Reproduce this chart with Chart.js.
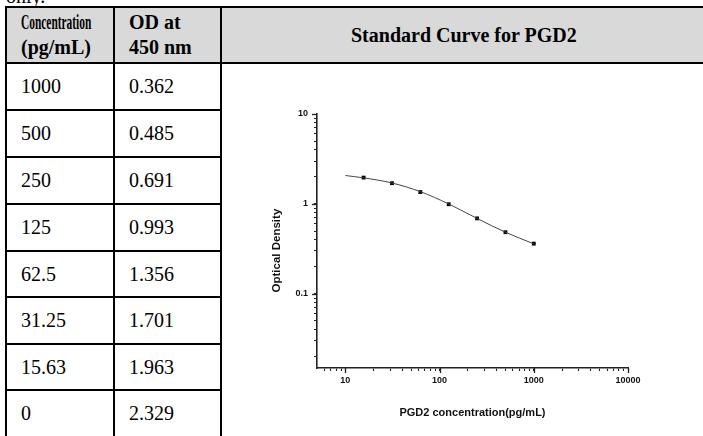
<!DOCTYPE html>
<html>
<head>
<meta charset="utf-8">
<script src="https://cdn.jsdelivr.net/npm/chart.js@4.4.0/dist/chart.umd.min.js"></script>
<style>
body { margin:0; width:703px; height:436px; overflow:hidden; background:#fff; position:relative; font-family:"Liberation Serif","Times New Roman",serif; }
#note { position:absolute; left:6px; top:-15px; font-size:20px; }
table { position:absolute; left:5px; top:6px; width:706px; border-collapse:collapse; table-layout:fixed; font-size:20px; }
td, th { border:2px solid #000; padding:0 0 0 14px; text-align:left; vertical-align:middle; white-space:nowrap; overflow:visible; }
th { background:#d9d9d9; line-height:25px; font-weight:bold; }
th.title { text-align:left; padding:0 0 0 129px; }
.narrow { display:inline-block; transform:scaleX(0.57); transform-origin:left center; }
td.chartcell { padding:0; }
#wrap { position:absolute; left:222px; top:63px; width:481px; height:373px; }
</style>
</head>
<body>
<div id="note">only.</div>
<table id="tbl">
  <colgroup><col style="width:108px"><col style="width:107px"><col></colgroup>
  <tr style="height:56px">
    <th><span class="narrow">Concentration</span><br>(pg/mL)</th>
    <th>OD at<br>450 nm</th>
    <th class="title">Standard Curve for PGD2</th>
  </tr>
</table>
<div id="wrap"><canvas id="myChart"></canvas></div>
<script>
// table values
const concentrations = [1000, 500, 250, 125, 62.5, 31.25, 15.63, 0];
const odValues = ['0.362', '0.485', '0.691', '0.993', '1.356', '1.701', '1.963', '2.329'];
const rowHeights = [47, 47, 47, 47, 46, 47, 46, 47];

// fitted curve
const curveConc = [10, 15.63, 31.25, 62.5, 125, 250, 500, 1000];
const curveOd = [2.07, 1.95, 1.71, 1.37, 1.0, 0.69, 0.485, 0.36];

// axis ticks
const xMajorTicks = [10, 100, 1000, 10000];
const yMajorTicks = [0.1, 1, 10];
const xTickValues = [6, 7, 8, 9, 10, 20, 30, 40, 50, 60, 70, 80, 90, 100, 200, 300, 400, 500, 600, 700, 800, 900, 1000, 2000, 3000, 4000, 5000, 6000, 7000, 8000, 9000, 10000];
const yTickValues = [0.02, 0.03, 0.04, 0.05, 0.06, 0.07, 0.08, 0.09, 0.1, 0.2, 0.3, 0.4, 0.5, 0.6, 0.7, 0.8, 0.9, 1, 2, 3, 4, 5, 6, 7, 8, 9, 10];

var tbl = document.getElementById('tbl');
concentrations.forEach(function (c, i) {
    var tr = document.createElement('tr');
    tr.style.height = rowHeights[i] + 'px';
    tr.innerHTML = '<td>' + c + '</td><td>' + odValues[i] + '</td>' +
        (i === 0 ? '<td class="chartcell" rowspan="8"></td>' : '');
    tbl.appendChild(tr);
});

const points = [];
concentrations.forEach(function (c, i) {
    if (c > 0) points.push({ x: c, y: parseFloat(odValues[i]) });
});
const curve = curveConc.map(function (c, i) { return { x: c, y: curveOd[i] }; });

const axisColor = '#222';
const tickFont = { family: 'Liberation Sans', size: 9, weight: 'bold' };

// longer marks for the decades
const majorTicks = {
    id: 'majorTicks',
    afterDraw(chart) {
        const ctx = chart.ctx;
        const xs = chart.scales.x, ys = chart.scales.y;
        ctx.save();
        ctx.strokeStyle = axisColor;
        ctx.lineWidth = 1.3;
        xMajorTicks.forEach(function (v) {
            const px = Math.round(xs.getPixelForValue(v)) + 0.5;
            ctx.beginPath(); ctx.moveTo(px, xs.top); ctx.lineTo(px, xs.top + 5); ctx.stroke();
        });
        yMajorTicks.forEach(function (v) {
            const py = Math.round(ys.getPixelForValue(v)) + 0.5;
            ctx.beginPath(); ctx.moveTo(ys.right, py); ctx.lineTo(ys.right - 5, py); ctx.stroke();
        });
        ctx.restore();
    }
};

const config = {
    type: 'scatter',
    data: {
        datasets: [{
            label: 'fit',
            data: curve,
            showLine: true,
            borderColor: '#444',
            borderWidth: 1,
            pointRadius: 0,
            tension: 0.4,
            cubicInterpolationMode: 'monotone'
        }, {
            label: 'standards',
            data: points,
            showLine: false,
            pointStyle: 'rect',
            pointRadius: 2.7,
            backgroundColor: '#000',
            borderColor: '#000',
            borderWidth: 0
        }]
    },
    options: {
        responsive: true,
        maintainAspectRatio: false,
        animation: false,
        layout: { padding: { left: 40, top: 51, right: 75, bottom: 0 } },
        plugins: { legend: { display: false }, tooltip: { enabled: false } },
        scales: {
            x: {
                type: 'logarithmic',
                min: 5,
                max: 10000,
                afterBuildTicks: function (s) { s.ticks = xTickValues.map(function (v) { return { value: v }; }); },
                afterFit: function (s) { s.height = 68; },
                ticks: {
                    autoSkip: false, maxRotation: 0, padding: 4, color: '#111', font: tickFont,
                    callback: function (v) { return xMajorTicks.includes(v) ? String(v) : ''; }
                },
                grid: { display: true, drawOnChartArea: false, drawTicks: true, tickLength: 3, tickColor: axisColor, tickWidth: 1.1 },
                border: { display: true, color: axisColor, width: 1.6 },
                title: {
                    display: true, text: 'PGD2 concentration(pg/mL)', color: '#111',
                    font: { family: 'Liberation Sans', size: 11, weight: 'bold' },
                    padding: { top: 0, bottom: 16 }
                }
            },
            y: {
                type: 'logarithmic',
                min: 0.015,
                max: 10,
                afterBuildTicks: function (s) { s.ticks = yTickValues.map(function (v) { return { value: v }; }); },
                afterFit: function (s) { s.width = 55; },
                ticks: {
                    autoSkip: false, padding: 6, color: '#111', font: tickFont,
                    callback: function (v) { return yMajorTicks.includes(v) ? String(v) : ''; }
                },
                grid: { display: true, drawOnChartArea: false, drawTicks: true, tickLength: 3, tickColor: axisColor, tickWidth: 1.1 },
                border: { display: true, color: axisColor, width: 1.6 },
                title: {
                    display: true, text: 'Optical Density      ', color: '#111',
                    font: { family: 'Liberation Sans', size: 11.5, weight: 'bold' },
                    padding: { top: 8, bottom: 0 }
                }
            }
        }
    },
    plugins: [majorTicks]
};

const myChart = new Chart(document.getElementById('myChart'), config);
</script>
</body>
</html>
